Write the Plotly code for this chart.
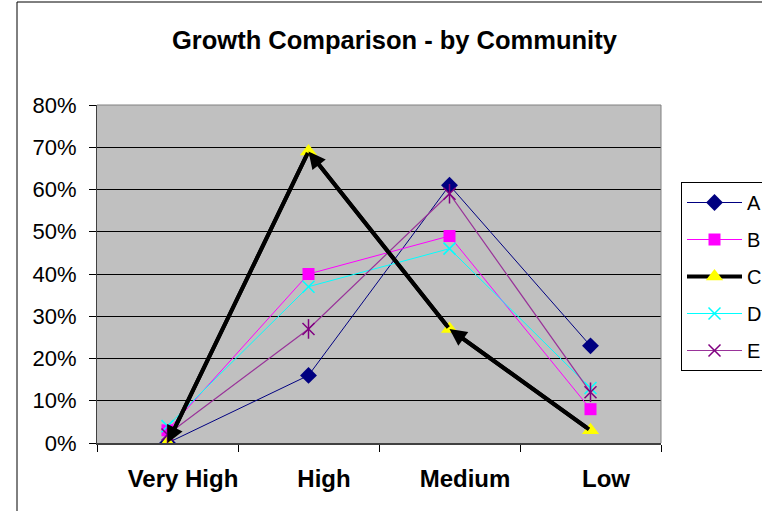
import plotly.graph_objects as go

# Growth levels by community
categories = ["Very High", "High", "Medium", "Low"]
series_names = ["A", "B", "C", "D", "E"]
A = [0.00, 0.16, 0.61, 0.23]
B = [0.03, 0.40, 0.49, 0.08]
C = [0.00, 0.69, 0.27, 0.03]
D = [0.04, 0.37, 0.46, 0.13]
E = [0.02, 0.27, 0.59, 0.12]
y_ticks = [0, 0.1, 0.2, 0.3, 0.4, 0.5, 0.6, 0.7, 0.8]

xi = list(range(len(categories)))
FONT = "Liberation Sans, Arial, sans-serif"
LABEL_SHIFT = 0.11  # category labels sit slightly right of the points

fig = go.Figure()

fig.add_trace(go.Scatter(
    x=xi, y=A, name="A", mode="lines+markers", legendgroup="A",
    line=dict(color="#000080", width=1),
    marker=dict(symbol="diamond", size=13, color="#000080"),
))
fig.add_trace(go.Scatter(
    x=xi, y=B, name="B", mode="lines+markers", legendgroup="B",
    line=dict(color="#FF00FF", width=1),
    marker=dict(symbol="square", size=12, color="#FF00FF"),
))
fig.add_trace(go.Scatter(
    x=xi, y=C, name="C", mode="lines+markers", legendgroup="C",
    line=dict(color="#000000", width=4),
    marker=dict(symbol="triangle-up", size=15, color="#FFFF00"),
))
fig.add_trace(go.Scatter(
    x=xi, y=D, name="D", mode="lines+markers", legendgroup="D",
    line=dict(color="#00FFFF", width=1),
    marker=dict(symbol="x-thin", size=12, line=dict(color="#00FFFF", width=1.5)),
))
fig.add_trace(go.Scatter(
    x=xi, y=E, name="E", mode="lines+markers", legendgroup="E",
    line=dict(color="#993399", width=1.2),
    marker=dict(symbol="x-thin", size=12, line=dict(color="#800080", width=1.5)),
))
# vertical stroke completing the star marker of E
fig.add_trace(go.Scatter(
    x=xi, y=E, mode="markers", legendgroup="E", showlegend=False,
    marker=dict(symbol="line-ns", size=14, line=dict(color="#800080", width=1.5)),
    hoverinfo="skip",
))

# arrowheads at the start of each C segment
for i in range(len(C) - 1):
    fig.add_annotation(
        x=xi[i], y=C[i], ax=xi[i + 1], ay=C[i + 1],
        xref="x", yref="y", axref="x", ayref="y",
        text="", showarrow=True, arrowhead=2, arrowsize=0.85,
        arrowwidth=4, arrowcolor="#000000", standoff=0,
    )

fig.add_annotation(
    text="Growth Comparison - by Community",
    xref="paper", yref="paper", x=0.528, y=(443 - 40) / 338,
    xanchor="center", yanchor="middle", showarrow=False,
    font=dict(family=FONT, size=25.5, color="#000000", weight="bold"),
)

# outer chart frame
fig.add_shape(
    type="rect", xref="paper", yref="paper",
    x0=(17 - 97) / 564, x1=1.5,
    y0=-0.5, y1=(443 - 2) / 338,
    line=dict(color="#000000", width=1), layer="below",
)

fig.update_layout(
    width=762, height=511,
    margin=dict(l=97, r=101, t=105, b=68, autoexpand=False),
    paper_bgcolor="#FFFFFF", plot_bgcolor="#C0C0C0",
    font=dict(family=FONT, color="#000000"),
    showlegend=True,
    legend=dict(
        x=(681 - 97) / 564, y=(443 - 182) / 338, xanchor="left", yanchor="top",
        bordercolor="#000000", borderwidth=1, bgcolor="#FFFFFF",
        font=dict(family=FONT, size=20), tracegroupgap=8,
        itemwidth=55,
    ),
    xaxis=dict(
        range=[-0.5, 3.5], tickvals=xi, showticklabels=False,
        showgrid=False, zeroline=False, ticks="",
        showline=True, linecolor="#404040", linewidth=2, mirror=False,
        minor=dict(tickvals=[-0.5, 0.5, 1.5, 2.5, 3.5], ticks="outside",
                   ticklen=7, tickcolor="#000000", showgrid=False),
        automargin=False,
    ),
    # label-only axis carrying the category names
    xaxis2=dict(
        overlaying="x", side="bottom", anchor="y",
        range=[-0.5 - LABEL_SHIFT, 3.5 - LABEL_SHIFT],
        tickvals=xi, ticktext=categories,
        tickfont=dict(family=FONT, size=24, color="#000000", weight="bold"),
        showgrid=False, zeroline=False, ticks="", showline=False,
        ticklabelstandoff=19, automargin=False,
    ),
    yaxis=dict(
        range=[0, 0.8], tickvals=y_ticks, tickformat=".0%",
        tickfont=dict(family=FONT, size=22, color="#000000"),
        showgrid=True, gridcolor="#000000", gridwidth=1,
        zeroline=False, ticks="outside", ticklen=7, tickcolor="#000000",
        showline=True, linecolor="#404040", linewidth=1,
        ticklabelstandoff=8, automargin=False,
    ),
)

# empty trace so the label axis is drawn
fig.add_trace(go.Scatter(x=[], y=[], xaxis="x2", yaxis="y", showlegend=False,
                         hoverinfo="skip"))

# plot-area border on the top and right
fig.add_shape(type="line", xref="paper", yref="paper", x0=0, x1=1, y0=1, y1=1,
              line=dict(color="#808080", width=1))
fig.add_shape(type="line", xref="paper", yref="paper", x0=1, x1=1, y0=0, y1=1,
              line=dict(color="#808080", width=1))

fig.write_html(
    "out.html",
    post_script="document.body.style.margin='0';document.body.style.overflow='hidden';",
)
